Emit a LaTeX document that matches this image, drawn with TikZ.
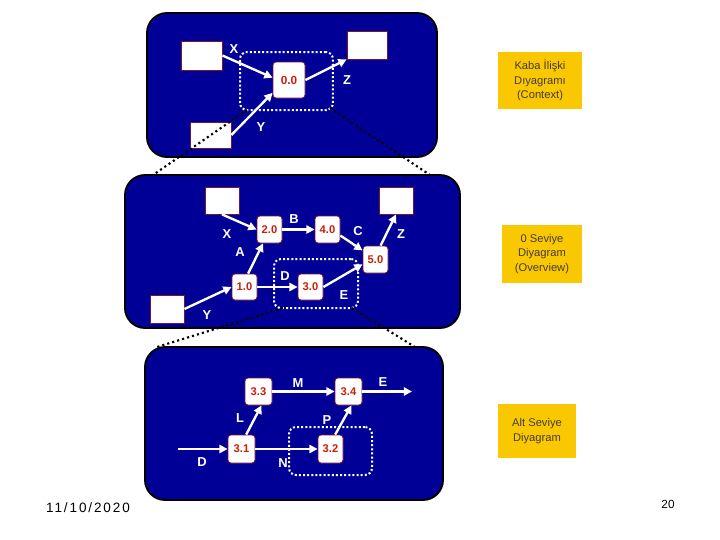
\documentclass[tikz,border=0pt]{standalone}
\usepackage{fontspec}
\setmainfont{Liberation Sans}
\usetikzlibrary{arrows.meta}
\definecolor{navy}{RGB}{0,0,150}
\definecolor{boxline}{RGB}{120,20,50}
\definecolor{proctext}{RGB}{200,30,10}
\definecolor{gold}{RGB}{250,200,0}
\definecolor{goldtext}{RGB}{70,60,45}
\begin{document}
\begin{tikzpicture}[x=0.85pt,y=-0.85pt,
  panel/.style={draw=black,line width=1.6pt,fill=navy,rounded corners=17pt,inner sep=0pt},
  ext/.style={draw=boxline,line width=0.7pt,fill=white,inner sep=0pt},
  proc/.style={draw=boxline,line width=0.7pt,fill=white,rounded corners=2.5pt,inner sep=0pt,text=proctext,font=\bfseries\fontsize{9.5}{10}\selectfont},
  lbl/.style={text=white,font=\bfseries\fontsize{11}{12}\selectfont,inner sep=0pt},
  flow/.style={draw=white,line width=2pt,-{Triangle[length=7pt,width=7pt]}},
  group/.style={draw=white,line width=1.7pt,dash pattern=on 1.7pt off 1.8pt,rounded corners=6pt,inner sep=0pt},
  zoomline/.style={draw=black,line width=1.8pt,dash pattern=on 1.8pt off 2.6pt},
  note/.style={fill=gold,inner sep=0pt,align=center,text=goldtext,font=\fontsize{9.5}{12.5}\selectfont}]
\useasboundingbox (0,0) rectangle (720,540);

% ---------- panel 1 ----------
\node[panel,minimum width=246.5pt,minimum height=122.4pt] (P1) at (292,85) {};
\node[ext,minimum width=34.85pt,minimum height=24.65pt] (e1a) at (201.5,55.5) {};
\node[ext,minimum width=34pt,minimum height=23.8pt] (e1b) at (367,45) {};
\node[ext,minimum width=34.85pt,minimum height=22.1pt] (e1c) at (210.5,135) {};
\node[proc,minimum width=27.2pt,minimum height=30.6pt,font=\bfseries\fontsize{10}{11}\selectfont] (p00) at (289,80) {0.0};
\node[group,minimum width=79pt,minimum height=49.3pt] (g1) at (286.5,81) {};
\draw[flow] (e1a.east) -- (p00.172);
\draw[flow] (e1c.east) -- (p00.218);
\draw[flow] (p00.east) -- (e1b.south west);
\node[lbl] (l1x) at (234,49) {X};
\node[lbl] (l1z) at (347,80) {Z};
\node[lbl] (l1y) at (261,127) {Y};

% ---------- panel 2 ----------
\node[panel,minimum width=284.75pt,minimum height=130pt] (P2) at (292.5,251.5) {};
\node[ext,minimum width=28.9pt,minimum height=22.95pt] (e2a) at (222,200.5) {};
\node[ext,minimum width=28.9pt,minimum height=22.95pt] (e2b) at (396,200.5) {};
\node[ext,minimum width=28.9pt,minimum height=23.8pt] (e2c) at (167,309) {};
\node[proc,minimum width=21.25pt,minimum height=22.95pt] (p20) at (269.5,229.5) {2.0};
\node[proc,minimum width=21.25pt,minimum height=22.95pt] (p40) at (327.5,229.5) {4.0};
\node[proc,minimum width=21.25pt,minimum height=22.95pt] (p50) at (375.5,259.5) {5.0};
\node[proc,minimum width=21.25pt,minimum height=22.1pt] (p10) at (244.5,287) {1.0};
\node[proc,minimum width=21.25pt,minimum height=22.1pt] (p30) at (310.5,287) {3.0};
\node[group,minimum width=71.4pt,minimum height=41.65pt] (g2) at (316,283.5) {};
\draw[flow] (e2a.south) -- (p20.west);
\draw[flow] (p20.east) -- (p40.west);
\draw[flow] (p40.-25) -- (p50.145);
\draw[flow] (p50.70) -- (e2b.south);
\draw[flow] (p10.75) -- (p20.-115);
\draw[flow] (p10.east) -- (p30.west);
\draw[flow] (p30.east) -- (p50.200);
\draw[flow] (e2c.east) -- (p10.west);
\node[lbl] (l2x) at (227,234) {X};
\node[lbl] (l2b) at (294,219) {B};
\node[lbl] (l2c) at (358,231) {C};
\node[lbl] (l2z) at (401,234) {Z};
\node[lbl] (l2a) at (240,252) {A};
\node[lbl] (l2d) at (285,276) {D};
\node[lbl] (l2e) at (344,295) {E};
\node[lbl] (l2y) at (207,315) {Y};

% ---------- panel 3 ----------
\node[panel,minimum width=253.3pt,minimum height=130pt] (P3) at (294,423.5) {};
\node[proc,minimum width=22.95pt,minimum height=22.95pt] (p33) at (258.5,391.5) {3.3};
\node[proc,minimum width=22.95pt,minimum height=22.95pt] (p34) at (348.5,391.5) {3.4};
\node[proc,minimum width=22.95pt,minimum height=23.8pt] (p31) at (241.5,449) {3.1};
\node[proc,minimum width=21.25pt,minimum height=23.8pt] (p32) at (330.5,449) {3.2};
\node[group,minimum width=70.55pt,minimum height=40.8pt] (g3) at (330.5,451) {};
\coordinate (din) at (178,449);
\coordinate (eout) at (412,391.5);
\draw[flow] (p33.east) -- (p34.west);
\draw[flow] (p34.east) -- (eout);
\draw[flow] (din) -- (p31.west);
\draw[flow] (p31.72) -- (p33.-78);
\draw[flow] (p31.east) -- (p32.west);
\draw[flow] (p32.72) -- (p34.-78);
\node[lbl] (l3m) at (298,383) {M};
\node[lbl] (l3e) at (383,382) {E};
\node[lbl] (l3l) at (240,418) {L};
\node[lbl] (l3p) at (327,420) {P};
\node[lbl] (l3d) at (202,462) {D};
\node[lbl] (l3n) at (283,463) {N};

% ---------- zoom lines ----------
\coordinate (z1a) at (247,110);
\coordinate (z1b) at (153,175);
\coordinate (z1c) at (330,108);
\coordinate (z1d) at (430,175);
\coordinate (z2a) at (283,308);
\coordinate (z2b) at (157,347);
\coordinate (z2c) at (352,308);
\coordinate (z2d) at (415,347);
\draw[zoomline] (z1a) -- (z1b);
\draw[zoomline] (z1c) -- (z1d);
\draw[zoomline] (z2a) -- (z2b);
\draw[zoomline] (z2c) -- (z2d);

% ---------- notes ----------
\node[note,minimum width=71.4pt,minimum height=48.45pt] (n1) at (540,80.5) {Kaba İlişki\\Dıyagramı\\(Context)};
\node[note,minimum width=68pt,minimum height=49.3pt] (n2) at (542,254) {0 Seviye\\Diyagram\\(Overview)};
\node[note,minimum width=66.3pt,minimum height=45.9pt] (n3) at (537,431) {Alt Seviye\\Diyagram};

% ---------- footer ----------
\node[font=\fontsize{11.5}{13}\selectfont\addfontfeature{LetterSpace=14},inner sep=0pt] (date) at (88,508) {11/10/2020};
\node[font=\fontsize{10}{11}\selectfont,inner sep=0pt] (pg) at (668,504) {20};
\end{tikzpicture}
\end{document}
